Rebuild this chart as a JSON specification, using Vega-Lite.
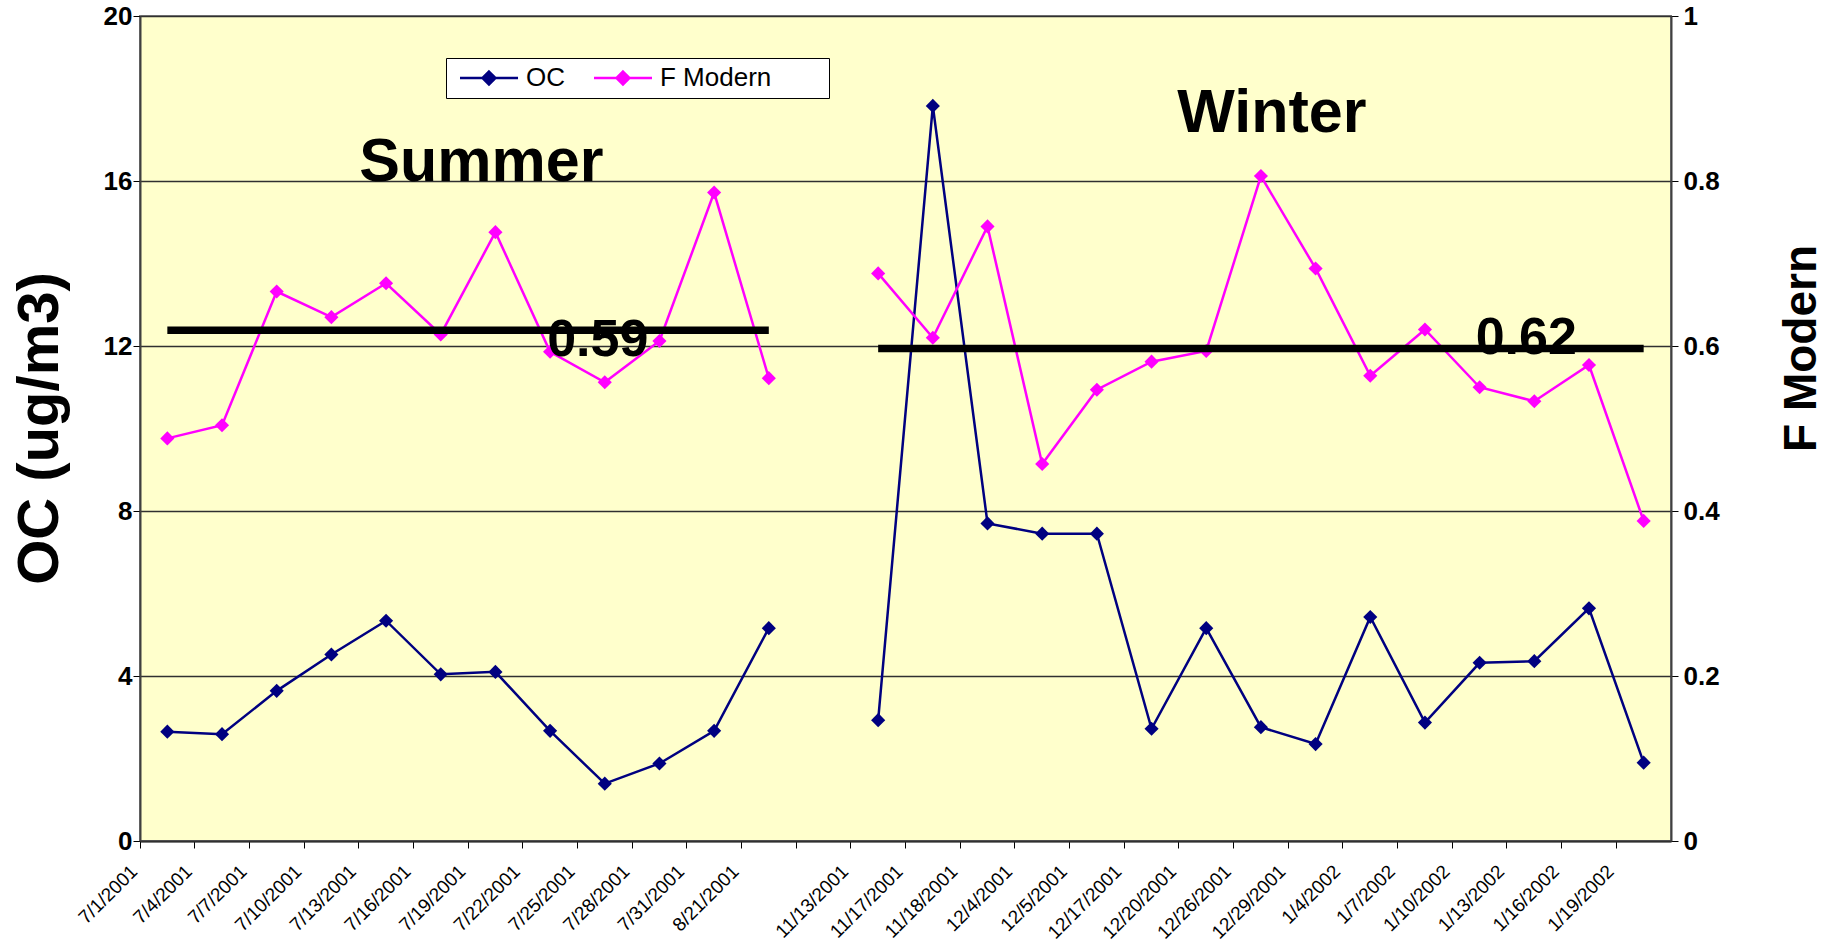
{
  "$schema": "https://vega.github.io/schema/vega-lite/v6.json",
  "width": 1531,
  "height": 825,
  "autosize": {"type": "none"},
  "padding": {"left": 140, "top": 16, "right": 166, "bottom": 108},
  "background": "#FFFFFF",
  "config": {
    "view": {"fill": "#FFFFCC", "stroke": "#808080", "strokeWidth": 2},
    "font": "Liberation Sans",
    "axis": {"labelColor": "#000000", "titleColor": "#000000", "tickColor": "#000000", "domainColor": "#404040", "domainWidth": 2}
  },
  "datasets": {
    "samples": [
      {"date": "7/1/2001", "season": "Summer", "OC": 2.65, "F": 0.488},
      {"date": "7/4/2001", "season": "Summer", "OC": 2.59, "F": 0.504},
      {"date": "7/7/2001", "season": "Summer", "OC": 3.64, "F": 0.666},
      {"date": "7/10/2001", "season": "Summer", "OC": 4.52, "F": 0.635},
      {"date": "7/13/2001", "season": "Summer", "OC": 5.34, "F": 0.676},
      {"date": "7/16/2001", "season": "Summer", "OC": 4.04, "F": 0.614},
      {"date": "7/19/2001", "season": "Summer", "OC": 4.1, "F": 0.738},
      {"date": "7/22/2001", "season": "Summer", "OC": 2.67, "F": 0.593},
      {"date": "7/25/2001", "season": "Summer", "OC": 1.39, "F": 0.556},
      {"date": "7/28/2001", "season": "Summer", "OC": 1.88, "F": 0.606},
      {"date": "7/31/2001", "season": "Summer", "OC": 2.67, "F": 0.786},
      {"date": "8/21/2001", "season": "Summer", "OC": 5.16, "F": 0.561},
      {"date": "11/13/2001", "season": "Winter", "OC": 2.93, "F": 0.688},
      {"date": "11/17/2001", "season": "Winter", "OC": 17.82, "F": 0.61},
      {"date": "11/18/2001", "season": "Winter", "OC": 7.7, "F": 0.745},
      {"date": "12/4/2001", "season": "Winter", "OC": 7.45, "F": 0.457},
      {"date": "12/5/2001", "season": "Winter", "OC": 7.45, "F": 0.547},
      {"date": "12/17/2001", "season": "Winter", "OC": 2.72, "F": 0.581},
      {"date": "12/20/2001", "season": "Winter", "OC": 5.16, "F": 0.594},
      {"date": "12/26/2001", "season": "Winter", "OC": 2.76, "F": 0.806},
      {"date": "12/29/2001", "season": "Winter", "OC": 2.35, "F": 0.694},
      {"date": "1/4/2002", "season": "Winter", "OC": 5.43, "F": 0.564},
      {"date": "1/7/2002", "season": "Winter", "OC": 2.87, "F": 0.62},
      {"date": "1/10/2002", "season": "Winter", "OC": 4.32, "F": 0.55},
      {"date": "1/13/2002", "season": "Winter", "OC": 4.36, "F": 0.533},
      {"date": "1/16/2002", "season": "Winter", "OC": 5.64, "F": 0.577},
      {"date": "1/19/2002", "season": "Winter", "OC": 1.9, "F": 0.388}
    ],
    "averages": [
      {"date": "7/1/2001", "season": "Summer", "F": 0.619},
      {"date": "8/21/2001", "season": "Summer", "F": 0.619},
      {"date": "11/13/2001", "season": "Winter", "F": 0.597},
      {"date": "1/19/2002", "season": "Winter", "F": 0.597}
    ],
    "labels": [
      {"date": "7/19/2001", "F": 0.8, "text": "Summer"},
      {"date": "12/26/2001", "F": 0.86, "text": "Winter"},
      {"date": "7/25/2001", "F": 0.5875, "text": "0.59"},
      {"date": "1/13/2002", "F": 0.59, "text": "0.62"}
    ]
  },
  "encoding": {
    "x": {
      "field": "date",
      "type": "ordinal",
      "scale": {
        "type": "band",
        "paddingInner": 0,
        "paddingOuter": 0,
        "domain": ["7/1/2001", "7/4/2001", "7/7/2001", "7/10/2001", "7/13/2001", "7/16/2001", "7/19/2001", "7/22/2001", "7/25/2001", "7/28/2001", "7/31/2001", "8/21/2001", " ", "11/13/2001", "11/17/2001", "11/18/2001", "12/4/2001", "12/5/2001", "12/17/2001", "12/20/2001", "12/26/2001", "12/29/2001", "1/4/2002", "1/7/2002", "1/10/2002", "1/13/2002", "1/16/2002", "1/19/2002"]
      },
      "axis": {
        "title": null,
        "bandPosition": 0,
        "labelAngle": -45,
        "labelAlign": "right",
        "labelBaseline": "middle",
        "labelFontSize": 19,
        "labelPadding": 20,
        "labelOffset": -33,
        "tickSize": 7,
        "grid": false,
        "domainColor": "#303030"
      }
    }
  },
  "layer": [
    {
      "data": {"name": "samples"},
      "encoding": {
        "y": {
          "field": "OC",
          "type": "quantitative",
          "scale": {"domain": [0, 20]},
          "axis": {
            "orient": "left",
            "values": [0, 4, 8, 12, 16, 20],
            "title": "OC (ug/m3)",
            "titleFontSize": 58,
            "titleFontWeight": "bold",
            "titleAngle": -90,
            "titleX": -100,
            "titleY": 412,
            "titleAlign": "center",
            "titleBaseline": "middle",
            "labelFontSize": 26,
            "labelFontWeight": "bold",
            "labelPadding": 1,
            "tickSize": 7,
            "grid": true,
            "gridColor": "#303030",
            "gridWidth": 1.3
          }
        },
        "color": {
          "datum": "OC",
          "type": "nominal",
          "scale": {"domain": ["OC", "F Modern"], "range": ["#000080", "#FF00FF"]},
          "legend": {
            "orient": "none",
            "legendX": 306,
            "legendY": 42,
            "direction": "horizontal",
            "title": null,
            "fillColor": "#FFFFFF",
            "strokeColor": "#000000",
            "padding": 7,
            "labelFont": "Liberation Sans",
            "labelFontSize": 26,
            "labelColor": "#000000",
            "labelLimit": 400,
            "labelExpr": "datum.label == 'F Modern' ? 'F Modern\u00a0\u00a0\u00a0\u00a0\u00a0\u00a0\u00a0\u200b' : datum.label",
            "symbolType": "M-1,0L8.67,0M3.83,-1.08L4.91,0L3.83,1.08L2.75,0Z",
            "symbolSize": 144,
            "symbolStrokeWidth": 2.5,
            "labelOffset": 47,
            "columnPadding": 22,
            "encode": {
              "symbols": {
                "update": {
                  "fill": {"scale": "color", "field": "value"},
                  "stroke": {"scale": "color", "field": "value"},
                  "opacity": {"value": 1}
                }
              }
            }
          }
        },
        "detail": {"field": "season", "type": "nominal"}
      },
      "layer": [
        {"mark": {"type": "line", "strokeWidth": 2.5}},
        {"mark": {"type": "point", "shape": "diamond", "filled": true, "size": 200, "opacity": 1}}
      ]
    },
    {
      "encoding": {
        "y": {
          "field": "F",
          "type": "quantitative",
          "scale": {"domain": [0, 1]},
          "axis": {
            "orient": "right",
            "values": [0, 0.2, 0.4, 0.6, 0.8, 1],
            "format": ".1~f",
            "title": "F Modern",
            "titleFontSize": 46,
            "titleFontWeight": "bold",
            "titleAngle": -90,
            "titleX": 130,
            "titleY": 332,
            "titleAlign": "center",
            "titleBaseline": "middle",
            "labelFontSize": 26,
            "labelFontWeight": "bold",
            "labelPadding": 5,
            "tickSize": 7,
            "grid": false
          }
        }
      },
      "layer": [
        {
          "data": {"name": "samples"},
          "encoding": {
            "color": {"datum": "F Modern", "type": "nominal"},
            "detail": {"field": "season", "type": "nominal"}
          },
          "layer": [
            {"mark": {"type": "line", "strokeWidth": 2.5}},
            {"mark": {"type": "point", "shape": "diamond", "filled": true, "size": 200, "opacity": 1}}
          ]
        },
        {
          "data": {"name": "averages"},
          "mark": {"type": "line", "color": "#000000", "strokeWidth": 7.5, "strokeCap": "butt"},
          "encoding": {"detail": {"field": "season", "type": "nominal"}}
        },
        {
          "data": {"name": "labels"},
          "transform": [{"filter": "datum.text === 'Summer'"}],
          "mark": {"type": "text", "fontSize": 61, "fontWeight": "bold", "align": "center", "baseline": "alphabetic", "dx": -14, "color": "#000000"},
          "encoding": {"text": {"field": "text"}}
        },
        {
          "data": {"name": "labels"},
          "transform": [{"filter": "datum.text === 'Winter'"}],
          "mark": {"type": "text", "fontSize": 61, "fontWeight": "bold", "align": "center", "baseline": "alphabetic", "dx": 11, "color": "#000000"},
          "encoding": {"text": {"field": "text"}}
        },
        {
          "data": {"name": "labels"},
          "transform": [{"filter": "datum.text === '0.59'"}],
          "mark": {"type": "text", "fontSize": 52, "fontWeight": "bold", "align": "center", "baseline": "alphabetic", "dx": -7, "color": "#000000"},
          "encoding": {"text": {"field": "text"}}
        },
        {
          "data": {"name": "labels"},
          "transform": [{"filter": "datum.text === '0.62'"}],
          "mark": {"type": "text", "fontSize": 52, "fontWeight": "bold", "align": "center", "baseline": "alphabetic", "dx": -8, "color": "#000000"},
          "encoding": {"text": {"field": "text"}}
        }
      ]
    }
  ],
  "resolve": {"scale": {"y": "independent"}}
}
